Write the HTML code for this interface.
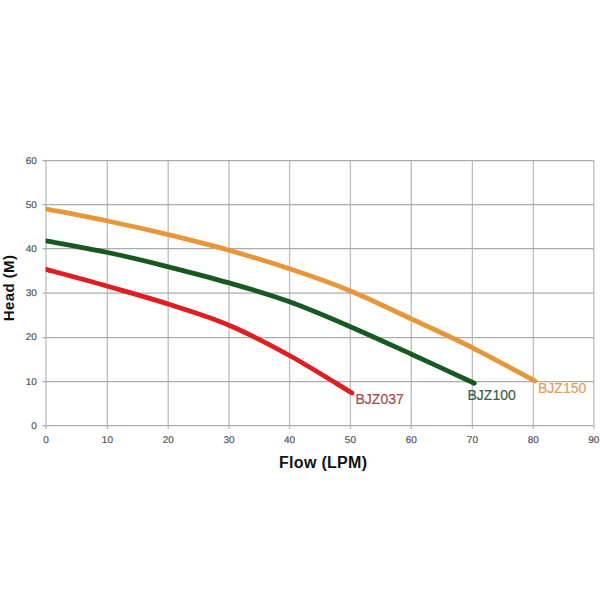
<!DOCTYPE html>
<html><head><meta charset="utf-8"><style>
html,body{margin:0;padding:0;background:#fff;width:600px;height:600px;overflow:hidden}
svg{display:block}
text{font-family:"Liberation Sans",sans-serif}
</style></head><body>
<svg width="600" height="600" viewBox="0 0 600 600">
<rect width="600" height="600" fill="#fff"/>
<g stroke="#bdbdbd" stroke-width="1.35" fill="none">
<line x1="46.00" y1="160.42" x2="46.00" y2="429.00"/>
<line x1="107.40" y1="160.42" x2="107.40" y2="429.00"/>
<line x1="168.20" y1="160.42" x2="168.20" y2="429.00"/>
<line x1="229.00" y1="160.42" x2="229.00" y2="429.00"/>
<line x1="289.60" y1="160.42" x2="289.60" y2="429.00"/>
<line x1="350.40" y1="160.42" x2="350.40" y2="429.00"/>
<line x1="411.30" y1="160.42" x2="411.30" y2="429.00"/>
<line x1="472.40" y1="160.42" x2="472.40" y2="429.00"/>
<line x1="533.30" y1="160.42" x2="533.30" y2="429.00"/>
<line x1="593.80" y1="160.42" x2="593.80" y2="429.00"/>
</g>
<g stroke="#acacac" stroke-width="1.25" fill="none">
<line x1="42.50" y1="425.50" x2="593.8" y2="425.50"/>
<line x1="42.50" y1="381.50" x2="593.8" y2="381.50"/>
<line x1="42.50" y1="337.50" x2="593.8" y2="337.50"/>
<line x1="42.50" y1="293.00" x2="593.8" y2="293.00"/>
<line x1="42.50" y1="248.50" x2="593.8" y2="248.50"/>
<line x1="42.50" y1="204.50" x2="593.8" y2="204.50"/>
<line x1="42.50" y1="160.50" x2="593.8" y2="160.50"/>
</g>
<g font-size="9.8" fill="#4e4e4e" stroke="#4e4e4e" stroke-width="0.15" text-rendering="geometricPrecision">
<text transform="translate(46.00,442.5) scale(1.02,1)" text-anchor="middle">0</text>
<text transform="translate(107.40,442.5) scale(1.02,1)" text-anchor="middle">10</text>
<text transform="translate(168.20,442.5) scale(1.02,1)" text-anchor="middle">20</text>
<text transform="translate(229.00,442.5) scale(1.02,1)" text-anchor="middle">30</text>
<text transform="translate(289.60,442.5) scale(1.02,1)" text-anchor="middle">40</text>
<text transform="translate(350.40,442.5) scale(1.02,1)" text-anchor="middle">50</text>
<text transform="translate(411.30,442.5) scale(1.02,1)" text-anchor="middle">60</text>
<text transform="translate(472.40,442.5) scale(1.02,1)" text-anchor="middle">70</text>
<text transform="translate(533.30,442.5) scale(1.02,1)" text-anchor="middle">80</text>
<text transform="translate(593.80,442.5) scale(1.02,1)" text-anchor="middle">90</text>
<text transform="translate(36.8,428.70) scale(1.02,1)" text-anchor="end">0</text>
<text transform="translate(36.8,384.52) scale(1.02,1)" text-anchor="end">10</text>
<text transform="translate(36.8,340.34) scale(1.02,1)" text-anchor="end">20</text>
<text transform="translate(36.8,296.16) scale(1.02,1)" text-anchor="end">30</text>
<text transform="translate(36.8,251.98) scale(1.02,1)" text-anchor="end">40</text>
<text transform="translate(36.8,207.80) scale(1.02,1)" text-anchor="end">50</text>
<text transform="translate(36.8,163.62) scale(1.02,1)" text-anchor="end">60</text>
</g>
<defs><clipPath id="pa"><rect x="45.6" y="100" width="560" height="400"/></clipPath></defs>
<g fill="none" stroke-width="4.8" stroke-linecap="round" stroke-linejoin="round" clip-path="url(#pa)">
<path stroke="#e8963a" d="M46.0,209.0 C56.3,211.0 87.3,216.7 107.7,221.0 C128.1,225.3 148.1,229.8 168.3,234.7 C188.5,239.6 208.8,244.6 229.0,250.3 C249.2,256.0 269.2,262.0 289.5,268.8 C309.8,275.5 330.2,282.6 350.5,291.0 C370.8,299.4 391.2,309.5 411.5,319.0 C431.8,328.5 451.9,337.4 472.5,347.8 C493.1,358.1 524.6,375.5 535.0,381.0"/>
<path stroke="#165a22" d="M46.0,240.9 C56.3,242.8 87.3,248.2 107.7,252.5 C128.1,256.8 148.1,261.7 168.3,266.8 C188.5,271.9 208.8,277.1 229.0,282.9 C249.2,288.7 269.3,294.4 289.5,301.8 C309.7,309.1 330.0,317.9 350.3,326.7 C370.6,335.4 390.8,344.8 411.5,354.2 C432.2,363.7 463.8,378.5 474.3,383.3"/>
<path stroke="#e01d21" d="M46.0,269.4 C56.3,272.2 87.4,280.5 107.7,286.3 C128.0,292.1 147.8,297.5 168.0,304.0 C188.2,310.5 208.8,316.6 229.0,325.2 C249.2,333.8 269.0,344.2 289.5,355.5 C310.0,366.8 341.6,386.8 352.0,393.0"/>
</g>
<g font-size="14">
<text x="355.5" y="403.8" fill="#a84a4a" stroke="#a84a4a" stroke-width="0.2">BJZ037</text>
<text x="467.5" y="399.5" fill="#3a5e46" stroke="#3a5e46" stroke-width="0.2">BJZ100</text>
<text x="538" y="393.3" fill="#dca060" stroke="#dca060" stroke-width="0.2">BJZ150</text>
</g>
<text x="279" y="467.6" font-size="16" font-weight="bold" fill="#111" letter-spacing="0.3">Flow (LPM)</text>
<text transform="translate(14.3,321.2) rotate(-90)" font-size="15" font-weight="bold" fill="#111" letter-spacing="0.4">Head (M)</text>
</svg>
</body></html>
